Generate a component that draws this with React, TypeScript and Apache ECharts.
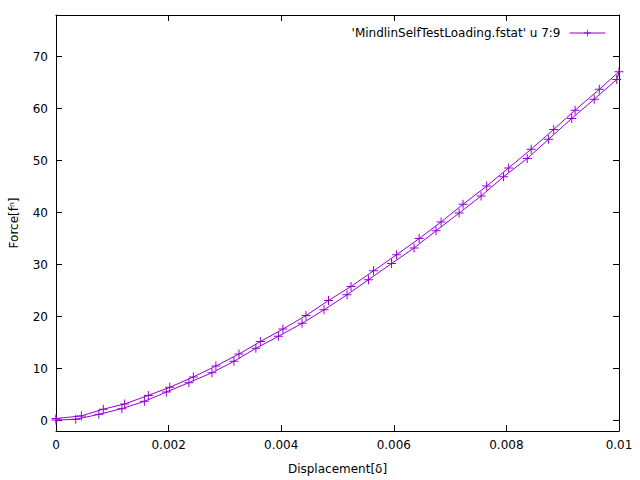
import React, { useEffect, useRef } from "react";
import * as echarts from "echarts";

// Upper branch (displacement, force), increasing displacement
const upperX = [0.0, 0.00045, 0.00084, 0.00122, 0.00164, 0.00202, 0.00244, 0.00284, 0.00325, 0.00363, 0.00403, 0.00444, 0.00484, 0.00524, 0.00564, 0.00605, 0.00645, 0.00684, 0.00723, 0.00765, 0.00804, 0.00844, 0.00884, 0.00922, 0.00965, 0.01];
const upperY = [0.4, 0.9, 2.2, 3.2, 4.85, 6.4, 8.4, 10.5, 12.8, 15.2, 17.6, 20.2, 23.1, 25.8, 28.8, 31.9, 35.0, 38.2, 41.6, 45.1, 48.6, 52.2, 56.0, 59.7, 63.7, 67.1];
// Lower branch (displacement, force), decreasing displacement
const lowerX = [0.00996, 0.00956, 0.00916, 0.00875, 0.00837, 0.00795, 0.00755, 0.00716, 0.00675, 0.00636, 0.00596, 0.00555, 0.00517, 0.00476, 0.00437, 0.00395, 0.00355, 0.00316, 0.00277, 0.00236, 0.00196, 0.00157, 0.00117, 0.00076, 0.00035, 0.0];
const lowerY = [65.6, 61.8, 58.1, 54.1, 50.4, 46.9, 43.2, 39.9, 36.5, 33.2, 30.2, 27.1, 24.2, 21.3, 18.7, 16.2, 13.9, 11.4, 9.2, 7.3, 5.5, 3.7, 2.3, 1.2, 0.25, 0.1];

const xTicks = [0, 0.002, 0.004, 0.006, 0.008, 0.01];
const yTicks = [0, 10, 20, 30, 40, 50, 60, 70];

const seriesName = "'MindlinSelfTestLoading.fstat' u 7:9";
const COLOR = "#9400d3";
const FONT = "DejaVu Sans";

export default function App() {
  const ref = useRef<HTMLDivElement>(null);
  useEffect(() => {
    if (!ref.current) return;
    const chart = echarts.init(ref.current, undefined, { renderer: "svg" });
    const data: number[][] = [];
    upperX.forEach((x, i) => data.push([x, upperY[i]]));
    lowerX.forEach((x, i) => data.push([x, lowerY[i]]));
    const plus = "path://M-0.5,-4.5 h1 v4 h4 v1 h-4 v4 h-1 v-4 h-4 v-1 h4 z";
    const axisCommon = {
      axisLine: { show: true, onZero: false, lineStyle: { color: "#000", width: 1 } },
      axisTick: { show: true, inside: true, length: 6, lineStyle: { color: "#000", width: 1 } },
      splitLine: { show: false },
    };
    chart.setOption({
      animation: false,
      backgroundColor: "#fff",
      textStyle: { fontFamily: FONT },
      grid: { left: 54, right: 21, top: 15, bottom: 47 },
      legend: {
        data: [seriesName],
        right: 29,
        top: 22,
        align: "right",
        itemWidth: 36,
        itemHeight: 9,
        itemGap: 10,
        lineStyle: { width: 1 },
        textStyle: { fontFamily: FONT, fontSize: 12, color: "#000", padding: [0, 4, 0, 0] },
      },
      xAxis: [
        {
          ...axisCommon,
          type: "value",
          min: 0,
          max: 0.01,
          interval: 0.002,
          position: "bottom",
          name: "Displacement[δ]",
          nameLocation: "middle",
          nameGap: 32,
          nameTextStyle: { fontFamily: FONT, fontSize: 12, color: "#000" },
          axisLabel: {
            show: true,
            margin: 8,
            fontFamily: FONT,
            fontSize: 12,
            color: "#000",
            customValues: xTicks,
            formatter: (v: number) => String(parseFloat(v.toFixed(4))),
          },
          axisTick: { ...axisCommon.axisTick, customValues: xTicks },
        },
        {
          ...axisCommon,
          type: "value",
          min: 0,
          max: 0.01,
          interval: 0.002,
          position: "top",
          axisLabel: { show: false },
        },
      ],
      yAxis: [
        {
          ...axisCommon,
          type: "value",
          min: -2,
          max: 78,
          position: "left",
          name: "Force[fⁿ]",
          nameLocation: "middle",
          nameGap: 36,
          nameTextStyle: { fontFamily: FONT, fontSize: 12, color: "#000" },
          axisLabel: {
            show: true,
            margin: 8,
            fontFamily: FONT,
            fontSize: 12,
            color: "#000",
            customValues: yTicks,
          },
          axisTick: { ...axisCommon.axisTick, customValues: yTicks },
        },
        {
          ...axisCommon,
          type: "value",
          min: -2,
          max: 78,
          position: "right",
          axisLabel: { show: false, customValues: yTicks },
          axisTick: { ...axisCommon.axisTick, customValues: yTicks },
        },
      ],
      series: [
        {
          name: seriesName,
          type: "line",
          xAxisIndex: 0,
          yAxisIndex: 0,
          data,
          symbol: plus,
          symbolSize: 9,
          showAllSymbol: true,
          clip: true,
          itemStyle: { color: COLOR },
          lineStyle: { color: COLOR, width: 1 },
        },
      ],
    });
    return () => chart.dispose();
  }, []);
  return <div ref={ref} style={{ width: 640, height: 480, position: "absolute", left: 0, top: 0 }} />;
}
